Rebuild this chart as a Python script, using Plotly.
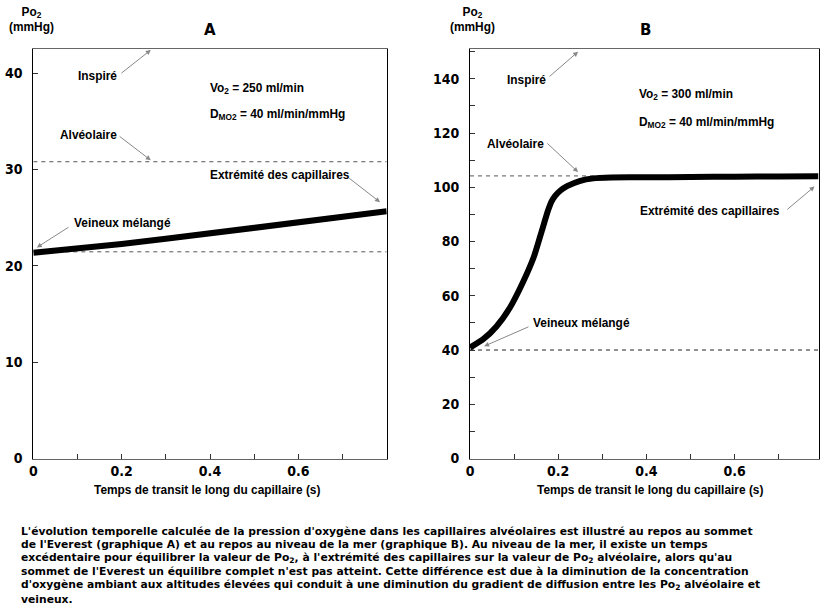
import plotly.graph_objects as go

# ---------------- data ----------------
# Panel A (Everest, rest)
tA = [0.0, 0.1, 0.2, 0.3, 0.4, 0.5, 0.6, 0.7, 0.8]
poA = [21.35, 21.75, 22.25, 22.8, 23.35, 23.95, 24.55, 25.1, 25.65]
alvA = 30.8
venA = 21.45

# Panel B (sea level, rest)
tB = [0.0, 0.03, 0.06, 0.09, 0.12, 0.145, 0.162, 0.177, 0.185, 0.193, 0.205,
      0.22, 0.25, 0.28, 0.32, 0.4, 0.5, 0.6, 0.7, 0.79]
poB = [40.9, 44.0, 48.7, 55.5, 65.0, 74.5, 83.5, 91.5, 94.8, 96.8, 98.8,
       100.4, 102.4, 103.3, 103.6, 103.7, 103.8, 103.9, 104.0, 104.1]
alvB = 104.2
venB = 40.0

xA_range = [0, 0.8]
xB_range = [0, 0.79]
yA_range = [0, 42.5]
yB_range = [0, 151]

x_ticks = [0, 0.2, 0.4, 0.6]
x_tick_text = ["0", "0.2", "0.4", "0.6"]
x_minor = [0.1, 0.3, 0.5, 0.7]
yA_ticks = [0, 10, 20, 30, 40]
yB_ticks = [0, 20, 40, 60, 80, 100, 120, 140]
yB_minor = [10, 30, 50, 70, 90, 110, 130, 150]

xlabel = "Temps de transit le long du capillaire (s)"
caption_lines = [
    "L'évolution temporelle calculée de la pression d'oxygène dans les capillaires alvéolaires est illustré au repos au sommet",
    "de l'Everest (graphique A) et au repos au niveau de la mer (graphique B). Au niveau de la mer, il existe un temps",
    "excédentaire pour équilibrer la valeur de Po<sub>2</sub>, à l'extrémité des capillaires sur la valeur de Po<sub>2</sub> alvéolaire, alors qu'au",
    "sommet de l'Everest un équilibre complet n'est pas atteint. Cette différence est due à la diminution de la concentration",
    "d'oxygène ambiant aux altitudes élevées qui conduit à une diminution du gradient de diffusion entre les Po<sub>2</sub> alvéolaire et",
    "veineux.",
]

# ---------------- figure ----------------
W, H = 829, 616
LBL = dict(family="Liberation Sans, Arial, sans-serif", size=11.9, color="black")
TICKF = dict(family="Liberation Sans Narrow, Arial Narrow, DejaVu Sans Condensed, sans-serif",
             size=14, color="black", weight="bold")

fig = go.Figure()

# Panel A
fig.add_trace(go.Scatter(x=xA_range, y=[alvA, alvA], mode="lines",
                         line=dict(color="#555", width=1, dash="4px,4px"),
                         xaxis="x", yaxis="y", hoverinfo="skip"))
fig.add_trace(go.Scatter(x=xA_range, y=[venA, venA], mode="lines",
                         line=dict(color="#555", width=1, dash="4px,4px"),
                         xaxis="x", yaxis="y", hoverinfo="skip"))
fig.add_trace(go.Scatter(x=tA, y=poA, mode="lines", line=dict(color="black", width=6),
                         xaxis="x", yaxis="y"))

# Panel B
fig.add_trace(go.Scatter(x=xB_range, y=[alvB, alvB], mode="lines",
                         line=dict(color="#555", width=1, dash="4px,4px"),
                         xaxis="x2", yaxis="y2", hoverinfo="skip"))
fig.add_trace(go.Scatter(x=xB_range, y=[venB, venB], mode="lines",
                         line=dict(color="#222", width=1, dash="4px,4px"),
                         xaxis="x2", yaxis="y2", hoverinfo="skip"))
fig.add_trace(go.Scatter(x=tB, y=poB, mode="lines",
                         line=dict(color="black", width=6, shape="spline", smoothing=0.5),
                         xaxis="x2", yaxis="y2"))

ydom = [1 - 458.5 / H, 1 - 49 / H]


def xaxis(dom, rng, anchor):
    return dict(domain=dom, range=rng, anchor=anchor, showgrid=False, zeroline=False,
                showline=True, linecolor="#666", linewidth=1, mirror=True,
                tickvals=x_ticks, ticktext=x_tick_text, ticks="inside", ticklen=5,
                tickcolor="#333", tickfont=TICKF, automargin=False,
                minor=dict(tickvals=x_minor, ticks="inside", ticklen=5, tickcolor="#333"),
                fixedrange=True)


def yaxis(anchor, rng, tv, minor=None):
    d = dict(anchor=anchor, domain=ydom, range=rng, showgrid=False, zeroline=False,
             showline=True, linecolor="black", linewidth=1, mirror=True,
             tickvals=tv, ticks="inside", ticklen=5, tickcolor="#333", tickfont=TICKF,
             ticklabelstandoff=7, fixedrange=True, automargin=False)
    if minor:
        d["minor"] = dict(tickvals=minor, ticks="inside", ticklen=5, tickcolor="#333")
    return d


fig.update_layout(
    width=W, height=H, margin=dict(l=0, r=0, t=0, b=0, autoexpand=False),
    paper_bgcolor="white", plot_bgcolor="white", showlegend=False,
    xaxis=xaxis([33.3 / W, 386.7 / W], xA_range, "y"),
    yaxis=yaxis("x", yA_range, yA_ticks),
    xaxis2=xaxis([470 / W, 818.5 / W], xB_range, "y2"),
    yaxis2=yaxis("x2", yB_range, yB_ticks, yB_minor),
)

ann = []


def text(x, y, s, xr="x", yr="y", xanchor="center", font=LBL):
    ann.append(dict(x=x, y=y, xref=xr, yref=yr, text=s, showarrow=False,
                    xanchor=xanchor, yanchor="middle", font=font))


def arrow(x0, y0, x1, y1, xr="x", yr="y"):
    ann.append(dict(x=x1, y=y1, ax=x0, ay=y0, xref=xr, yref=yr, axref=xr, ayref=yr,
                    text="", showarrow=True, arrowhead=2, arrowsize=1, arrowwidth=1,
                    arrowcolor="#888"))


B = lambda s: "<b>" + s + "</b>"

# Panel A labels
text(0.145, 39.66, B("Inspiré"))
arrow(0.196, 39.87, 0.266, 42.4)
text(0.124, 33.56, B("Alvéolaire"))
arrow(0.192, 33.55, 0.266, 30.95)
text(0.3955, 38.4, B("Vo<sub>2</sub> = 250 ml/min"), xanchor="left")
text(0.3955, 35.7, B("D<sub>MO2</sub> = 40 ml/min/mmHg"), xanchor="left")
text(0.3955, 29.4, B("Extrémité des capillaires"), xanchor="left")
arrow(0.712, 29.2, 0.785, 26.6)
text(0.201, 24.4, B("Veineux mélangé"))
arrow(0.083, 24.1, 0.008, 21.9)

# Panel B labels
text(0.129, 139.6, B("Inspiré"), "x2", "y2")
arrow(0.177, 140.4, 0.245, 150, "x2", "y2")
text(0.104, 115.9, B("Alvéolaire"), "x2", "y2")
arrow(0.172, 116.7, 0.245, 105.6, "x2", "y2")
text(0.3775, 134.3, B("Vo<sub>2</sub> = 300 ml/min"), "x2", "y2", xanchor="left")
text(0.3775, 123.8, B("D<sub>MO2</sub> = 40 ml/min/mmHg"), "x2", "y2", xanchor="left")
text(0.545, 91.4, B("Extrémité des capillaires"), "x2", "y2")
arrow(0.716, 91.4, 0.781, 100.3, "x2", "y2")
text(0.253, 49.8, B("Veineux mélangé"), "x2", "y2")
arrow(0.136, 48.8, 0.032, 41.4, "x2", "y2")

# Titles, axis labels (paper coords)
TITLEF = dict(family="DejaVu Sans, Arial, sans-serif", size=15, color="black")
for s, px in (("A", 210), ("B", 645)):
    ann.append(dict(x=px / W, y=1 - 30 / H, xref="paper", yref="paper", text=B(s),
                    showarrow=False, xanchor="center", yanchor="middle", font=TITLEF))
for px in (31, 472):
    ann.append(dict(x=px / W, y=1 - 19 / H, xref="paper", yref="paper",
                    text=B("Po<sub>2</sub>") + "<br>" + B("(mmHg)"),
                    showarrow=False, xanchor="center", yanchor="middle", font=LBL))
for px in (207, 650):
    ann.append(dict(x=px / W, y=1 - 490 / H, xref="paper", yref="paper", text=B(xlabel),
                    showarrow=False, xanchor="center", yanchor="middle", font=LBL))

# Caption (one annotation per line for exact line spacing)
CAPF = dict(family="DejaVu Sans, Verdana, sans-serif", size=10.75, color="black")
for i, line in enumerate(caption_lines):
    ann.append(dict(x=19 / W, y=1 - (531 + 13.6 * i) / H, xref="paper", yref="paper",
                    text=B(line), showarrow=False, xanchor="left", yanchor="middle",
                    align="left", font=CAPF))

fig.update_layout(annotations=ann)
fig.write_html("out.html", config={"displayModeBar": False},
               post_script="document.body.style.margin='0';document.body.style.padding='0';")
